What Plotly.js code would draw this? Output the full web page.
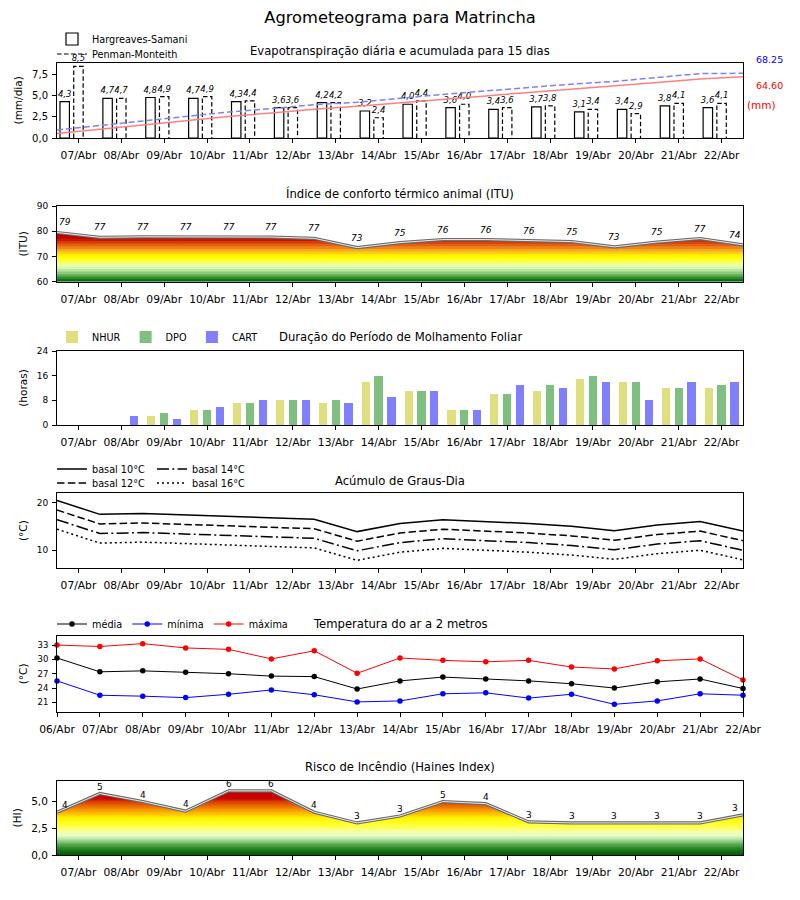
<!DOCTYPE html>
<html>
<head>
<meta charset="utf-8">
<script src="https://cdn.plot.ly/plotly-3.0.1.min.js"></script>
<style>html,body{margin:0;padding:0;background:#fff;}#chart{width:800px;height:900px;}</style>
</head>
<body>
<div id="chart"></div>
<script>
// ---------------- DATA ----------------
const tickDays = [7,8,9,10,11,12,13,14,15,16,17,18,19,20,21,22];
const tickLabels = ['07/Abr','08/Abr','09/Abr','10/Abr','11/Abr','12/Abr','13/Abr','14/Abr','15/Abr','16/Abr','17/Abr','18/Abr','19/Abr','20/Abr','21/Abr','22/Abr'];
const tempDays = [6,7,8,9,10,11,12,13,14,15,16,17,18,19,20,21,22];
const tempLabels = ['06/Abr','07/Abr','08/Abr','09/Abr','10/Abr','11/Abr','12/Abr','13/Abr','14/Abr','15/Abr','16/Abr','17/Abr','18/Abr','19/Abr','20/Abr','21/Abr','22/Abr'];
const halfDays = [6.5,7.5,8.5,9.5,10.5,11.5,12.5,13.5,14.5,15.5,16.5,17.5,18.5,19.5,20.5,21.5,22.5];

// Evapotranspiração
const etHS = [4.3,4.7,4.8,4.7,4.3,3.6,4.2,3.2,4.0,3.6,3.4,3.7,3.1,3.4,3.8,3.6];
const etPM = [8.5,4.7,4.9,4.9,4.4,3.6,4.2,2.4,4.4,4.0,3.6,3.8,3.4,2.9,4.1,4.1];
const acumPM = [8.5,13.2,18.1,23.0,27.4,31.0,35.2,37.6,42.0,46.0,49.6,53.4,56.8,59.7,63.8,67.9,68.25];
const acumHS = [4.8,9.3,14.0,18.6,22.8,26.4,30.4,33.6,37.4,41.0,44.4,48.0,51.2,54.6,58.4,62.2,64.60];
const acumTotals = [68.25, 64.60];

// ITU
const ituLine = [79.5,77.6,77.8,77.7,77.7,77.7,77.2,73.5,75.5,76.7,76.7,76.2,75.9,73.8,75.7,77.1,74.6];
const ituLabels = [79,77,77,77,77,77,77,73,75,76,76,76,75,73,75,77,74];

// Molhamento foliar
const wetNHUR = [0,0,3,5,7,8,7,14,11,5,10,11,15,14,12,12];
const wetDPO  = [0,0,4,5,7,8,8,16,11,5,10,13,16,14,12,13];
const wetCART = [0,3,2,6,8,8,7,9,11,5,13,12,14,8,14,14];

// Graus-dia
const gd10 = [20.4,17.5,17.7,17.4,17.1,16.7,16.5,13.9,15.6,16.4,16.0,15.6,15.0,14.1,15.3,16.0,14.0];
const gd12 = [18.4,15.5,15.7,15.4,15.1,14.7,14.5,11.9,13.6,14.4,14.0,13.6,13.0,12.1,13.3,14.0,12.0];
const gd14 = [16.4,13.5,13.7,13.4,13.1,12.7,12.5,9.9,11.6,12.4,12.0,11.6,11.0,10.1,11.3,12.0,10.0];
const gd16 = [14.4,11.5,11.7,11.4,11.1,10.7,10.5,7.9,9.6,10.4,10.0,9.6,9.0,8.1,9.3,10.0,8.0];

// Temperatura
const tMean = [30.3,27.4,27.6,27.3,27.0,26.5,26.4,23.8,25.5,26.3,25.9,25.5,24.9,24.0,25.3,25.9,23.9];
const tMin  = [25.5,22.5,22.3,22.0,22.7,23.6,22.6,21.1,21.3,22.8,23.0,21.9,22.7,20.6,21.3,22.8,22.5];
const tMax  = [33.0,32.7,33.3,32.4,32.1,30.1,31.8,27.1,30.3,29.8,29.5,29.8,28.4,28.0,29.7,30.1,25.7];

// Haines
const hainesLine = [4.0,5.75,5.0,4.1,6.0,6.0,4.0,3.0,3.65,5.0,4.8,3.1,3.0,3.0,3.0,3.0,3.75];
const hainesLabels = [4,5,4,4,6,6,4,3,3,5,4,3,3,3,3,3,3];

// ticks
const etTicks = [0,2.5,5,7.5];
const ituTicks = [60,70,80,90];
const wetTicks = [0,8,16,24];
const gdTicks = [10,20];
const tempTicks = [21,24,27,30,33];
const hiTicks = [0,2.5,5];

// ---------------- STYLE HELPERS ----------------
const FONT = 'DejaVu Sans, Verdana, sans-serif';
const H = 900, W = 800;
const xDom = [57/W, 743/W];
function yDom(top, bottom){ return [1 - bottom/H, 1 - top/H]; }
function py(px){ return 1 - px/H; }
const fmt = v => v.toFixed(1).replace('.', ',');

const axBase = {showline:true, mirror:true, linecolor:'black', linewidth:1, ticks:'outside',
  ticklen:4, tickwidth:1, tickcolor:'black', showgrid:false, zeroline:false, fixedrange:true};

function xAxis(anchor, temp){
  return Object.assign({}, axBase, {domain:xDom, anchor:anchor,
    range: temp ? [tempDays[0], tempDays[tempDays.length-1]] : [halfDays[0], halfDays[halfDays.length-1]],
    tickvals: temp ? tempDays : tickDays, ticktext: temp ? tempLabels : tickLabels,
    tickfont:{size:10.7, color:'black'}, ticklabelstandoff:3});
}
function yAxis(anchor, dom, range, ticks, title, fs, tf){
  const a = Object.assign({}, axBase, {domain:dom, anchor:anchor, range:range, tickvals:ticks,
    tickfont:{size:fs, color:'black'}, ticklabelstandoff:2,
    title:{text:title, font:{size:10.5, color:'black'}, standoff:7}});
  if (tf) { a.ticktext = ticks.map(tf); }
  return a;
}

// color ramp helper
function hex2rgb(h){ return [parseInt(h.substr(1,2),16),parseInt(h.substr(3,2),16),parseInt(h.substr(5,2),16)]; }
function ramp(stops, v){
  if (v <= stops[0][0]) return stops[0][1];
  for (let i=1;i<stops.length;i++){
    if (v <= stops[i][0]){
      const t = (v - stops[i-1][0])/(stops[i][0]-stops[i-1][0]);
      const a = hex2rgb(stops[i-1][1]), b = hex2rgb(stops[i][1]);
      return 'rgb(' + a.map((c,k)=>Math.round(c + (b[k]-c)*t)).join(',') + ')';
    }
  }
  return stops[stops.length-1][1];
}

const shapes = [];
// ITU discrete bands (styling)
const ituBands = [
  [60,'#0c6a0c'],[61,'#2e8a2e'],[62,'#5cac50'],[63,'#8ccc78'],[64,'#b8e8a0'],[65,'#d8f8b0'],
  [66,'#ecffa8'],[67,'#f8ff70'],[68,'#ffff30'],[69,'#ffff00'],[70,'#fff000'],[71,'#fcd010'],
  [72,'#f5a820'],[73,'#ee8418'],[74,'#e46010'],[75,'#d84008'],[76,'#cc1800'],[77,'#c00000']];
ituBands.forEach(b => shapes.push({type:'rect', layer:'below', xref:'x2 domain', x0:0, x1:1,
  yref:'y2', y0:b[0], y1:90, fillcolor:b[1], line:{width:0}}));
// Haines smooth gradient (styling)
const hiStops = [[0,'#005a00'],[0.5,'#1e7e1e'],[1.0,'#5aaa50'],[1.4,'#a8dc98'],[1.8,'#e8fcc8'],
  [2.2,'#f4ffa8'],[2.6,'#ffff50'],[3.0,'#ffff20'],[3.5,'#fff000'],[3.8,'#ffc800'],[4.2,'#f59a00'],
  [4.6,'#e86a00'],[5.0,'#d83c00'],[5.3,'#c80000'],[7.0,'#c00000']];
for (let v=0; v<6.95; v+=0.05){
  shapes.push({type:'rect', layer:'below', xref:'x6 domain', x0:0, x1:1, yref:'y6', y0:v, y1:6.95,
    fillcolor:ramp(hiStops, v+0.025), line:{width:0}});
}

// ---------------- TRACES ----------------
const traces = [];
const bw = 0.22;
// ET bars
traces.push({type:'bar', name:'Hargreaves-Samani', legend:'legend', x:tickDays.map(d=>d-0.32), y:etHS, width:bw,
  marker:{color:'white', line:{color:'black', width:1.2}}, text:etHS.map(fmt), texttemplate:'%{text}',
  textposition:'outside', constraintext:'none', cliponaxis:false,
  textfont:{size:8.5, style:'italic', color:'black', family:FONT}, xaxis:'x', yaxis:'y', hoverinfo:'y'});
traces.push({type:'bar', name:'Penman-Monteith', showlegend:false, x:tickDays, y:etPM, width:bw,
  marker:{color:'white', line:{width:0}}, text:etPM.map(fmt), texttemplate:'%{text}',
  textposition:'outside', constraintext:'none', cliponaxis:false,
  textfont:{size:8.5, style:'italic', color:'black', family:FONT}, xaxis:'x', yaxis:'y', hoverinfo:'y'});
const pmX = [], pmY = [];
tickDays.forEach((d,i)=>{ pmX.push(d-bw/2, d-bw/2, d+bw/2, d+bw/2, null); pmY.push(0, etPM[i], etPM[i], 0, null); });
traces.push({type:'scatter', mode:'lines', name:'Penman-Monteith', legend:'legend6', x:pmX, y:pmY,
  line:{color:'black', width:1.2, dash:'4.5px,2.5px'}, xaxis:'x', yaxis:'y', hoverinfo:'skip', cliponaxis:false});
traces.push({type:'scatter', mode:'lines', name:'Acumulado PM', showlegend:false, x:halfDays, y:acumPM,
  line:{color:'#8080ff', width:1.5, dash:'6px,3px'}, xaxis:'x', yaxis:'y7'});
traces.push({type:'scatter', mode:'lines', name:'Acumulado HS', showlegend:false, x:halfDays, y:acumHS,
  line:{color:'#ff8080', width:1.5}, xaxis:'x', yaxis:'y7'});

// ITU mask + line
const x0 = halfDays[0], x1 = halfDays[halfDays.length-1];
traces.push({type:'scatter', mode:'lines', x:halfDays.concat([x1,x0]), y:ituLine.concat([90,90]), fill:'toself',
  fillcolor:'white', line:{width:0}, showlegend:false, hoverinfo:'skip', xaxis:'x2', yaxis:'y2'});
traces.push({type:'scatter', mode:'lines', name:'ITU', x:halfDays, y:ituLine, line:{color:'#6a6a6a', width:3.2},
  showlegend:false, xaxis:'x2', yaxis:'y2'});
traces.push({type:'scatter', mode:'lines', x:halfDays, y:ituLine, line:{color:'#e8e8e8', width:1},
  showlegend:false, hoverinfo:'skip', xaxis:'x2', yaxis:'y2'});

// Wetting bars
const ww = 0.19;
traces.push({type:'bar', name:'NHUR', legend:'legend2', x:tickDays.map(d=>d-0.3), y:wetNHUR, width:ww,
  marker:{color:'#dfdf7f'}, xaxis:'x3', yaxis:'y3'});
traces.push({type:'bar', name:'DPO', legend:'legend2', x:tickDays, y:wetDPO, width:ww,
  marker:{color:'#7fbf7f'}, xaxis:'x3', yaxis:'y3'});
traces.push({type:'bar', name:'CART', legend:'legend2', x:tickDays.map(d=>d+0.3), y:wetCART, width:ww,
  marker:{color:'#7f7fff'}, xaxis:'x3', yaxis:'y3'});

// Graus-dia
traces.push({type:'scatter', mode:'lines', name:'basal 10°C', legend:'legend3', x:halfDays, y:gd10,
  line:{color:'black', width:1.5}, xaxis:'x4', yaxis:'y4'});
traces.push({type:'scatter', mode:'lines', name:'basal 12°C', legend:'legend7', x:halfDays, y:gd12,
  line:{color:'black', width:1.5, dash:'7.5px,3.3px'}, xaxis:'x4', yaxis:'y4'});
traces.push({type:'scatter', mode:'lines', name:'basal 14°C', legend:'legend4', x:halfDays, y:gd14,
  line:{color:'black', width:1.5, dash:'12px,3.3px,2px,3.3px'}, xaxis:'x4', yaxis:'y4'});
traces.push({type:'scatter', mode:'lines', name:'basal 16°C', legend:'legend8', x:halfDays, y:gd16,
  line:{color:'black', width:1.5, dash:'2px,3px'}, xaxis:'x4', yaxis:'y4'});

// Temperatura
traces.push({type:'scatter', mode:'lines+markers', name:'média', legend:'legend5', x:tempDays, y:tMean,
  line:{color:'black', width:1}, marker:{color:'black', size:5.5}, cliponaxis:false, xaxis:'x5', yaxis:'y5'});
traces.push({type:'scatter', mode:'lines+markers', name:'mínima', legend:'legend5', x:tempDays, y:tMin,
  line:{color:'blue', width:1}, marker:{color:'blue', size:5.5}, cliponaxis:false, xaxis:'x5', yaxis:'y5'});
traces.push({type:'scatter', mode:'lines+markers', name:'máxima', legend:'legend5', x:tempDays, y:tMax,
  line:{color:'red', width:1}, marker:{color:'red', size:5.5}, cliponaxis:false, xaxis:'x5', yaxis:'y5'});

// Haines mask + line
traces.push({type:'scatter', mode:'lines', x:halfDays.concat([x1,x0]), y:hainesLine.concat([6.95,6.95]), fill:'toself',
  fillcolor:'white', line:{width:0}, showlegend:false, hoverinfo:'skip', xaxis:'x6', yaxis:'y6'});
traces.push({type:'scatter', mode:'lines', name:'Haines', x:halfDays, y:hainesLine, line:{color:'#6a6a6a', width:3.2},
  showlegend:false, xaxis:'x6', yaxis:'y6'});
traces.push({type:'scatter', mode:'lines', x:halfDays, y:hainesLine, line:{color:'#e8e8e8', width:1},
  showlegend:false, hoverinfo:'skip', xaxis:'x6', yaxis:'y6'});

// ---------------- ANNOTATIONS ----------------
const ann = [];
function subTitle(text, ypx){
  ann.push({text:text, xref:'paper', yref:'paper', x:0.5, y:py(ypx), xanchor:'center', yanchor:'middle',
    showarrow:false, font:{size:11.6, color:'black'}});
}
subTitle('Evapotranspiração diária e acumulada para 15 dias', 51);
subTitle('Índice de conforto térmico animal (ITU)', 194);
subTitle('Duração do Período de Molhamento Foliar', 337);
subTitle('Acúmulo de Graus-Dia', 481);
subTitle('Temperatura do ar a 2 metros', 624);
subTitle('Risco de Incêndio (Haines Index)', 767);

ann.push({text:acumTotals[0].toFixed(2), xref:'paper', yref:'paper', x:769/W, y:py(59), xanchor:'center', yanchor:'middle',
  showarrow:false, font:{size:9.5, color:'blue'}});
ann.push({text:acumTotals[1].toFixed(2), xref:'paper', yref:'paper', x:769/W, y:py(85), xanchor:'center', yanchor:'middle',
  showarrow:false, font:{size:9.5, color:'red'}});
ann.push({text:'(mm)', xref:'paper', yref:'paper', x:761/W, y:py(105), xanchor:'center', yanchor:'middle',
  showarrow:false, font:{size:10.5, color:'red'}});

const last = halfDays.length - 1;
halfDays.forEach((d,i)=>{
  const xs = i===0 ? 8 : (i===last ? -8 : 0);
  ann.push({text:String(ituLabels[i]), x:d, y:ituLine[i], xref:'x2', yref:'y2', showarrow:false,
    yshift:10, xshift:xs, font:{size:9, style:'italic', color:'black'}});
  ann.push({text:String(hainesLabels[i]), x:d, y:hainesLine[i], xref:'x6', yref:'y6', showarrow:false,
    yshift:7, xshift:xs, font:{size:9, color:'black'}});
});

// ---------------- LAYOUT ----------------
const legBase = {bgcolor:'rgba(0,0,0,0)', borderwidth:0, font:{size:9.7, color:'black'}, xanchor:'left', yanchor:'middle'};
function leg(xpx, ypx, orient){ return Object.assign({}, legBase, {x:xpx/W, y:py(ypx), orientation:orient}); }
const layout = {
  width:W, height:H, margin:{l:0, r:0, t:0, b:0}, paper_bgcolor:'white', plot_bgcolor:'white',
  font:{family:FONT, color:'black'}, separators:',.', barmode:'overlay', bargap:0,
  title:{text:'Agrometeograma para Matrincha', x:0.5, xanchor:'center', y:py(17), yanchor:'middle', font:{size:16.3, color:'black'}},
  showlegend:true,
  legend: leg(52, 39, 'v'),
  legend6: leg(52, 54, 'v'),
  legend2: leg(52, 337, 'h'),
  legend3: leg(52, 469, 'v'),
  legend7: leg(52, 483, 'v'),
  legend4: leg(152, 469, 'v'),
  legend8: leg(152, 483, 'v'),
  legend5: leg(52, 624, 'h'),
  xaxis: xAxis('y', false),
  xaxis2: xAxis('y2', false),
  xaxis3: xAxis('y3', false),
  xaxis4: xAxis('y4', false),
  xaxis5: xAxis('y5', true),
  xaxis6: xAxis('y6', false),
  yaxis: yAxis('x', yDom(62.7,138), [0,8.925], etTicks, '(mm/dia)', 10, fmt),
  yaxis7: {overlaying:'y', anchor:'x', range:[0,79.4], visible:false, fixedrange:true},
  yaxis2: yAxis('x2', yDom(206,281.7), [60,90], ituTicks, '(ITU)', 9),
  yaxis3: yAxis('x3', yDom(351,425), [0,24], wetTicks, '(horas)', 9),
  yaxis4: yAxis('x4', yDom(493.3,568), [6.3,21.9], gdTicks, '(°C)', 9),
  yaxis5: yAxis('x5', yDom(636,711.7), [19.05,34.9], tempTicks, '(°C)', 8.5),
  yaxis6: yAxis('x6', yDom(780.7,855), [0,6.95], hiTicks, '(HI)', 10.5, fmt),
  shapes: shapes,
  annotations: ann
};

Plotly.newPlot('chart', traces, layout, {displayModeBar:false, staticPlot:true});
</script>
</body>
</html>
